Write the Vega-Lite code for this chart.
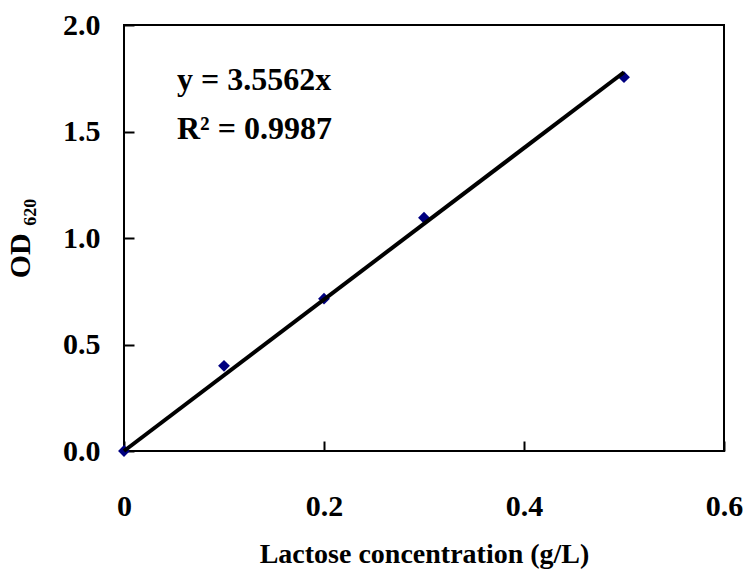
{
  "$schema": "https://vega.github.io/schema/vega-lite/v6.json",
  "width": 600,
  "height": 426,
  "autosize": {"type": "none"},
  "padding": {"left": 124, "top": 25, "right": 23, "bottom": 130},
  "background": "white",
  "config": {
    "view": {"stroke": "black", "strokeWidth": 2},
    "font": "Liberation Serif",
    "axis": {
      "labelFont": "Liberation Serif",
      "labelFontSize": 30,
      "labelFontWeight": "bold",
      "labelColor": "black",
      "titleFont": "Liberation Serif",
      "titleFontSize": 28,
      "titleFontWeight": "bold",
      "titleColor": "black",
      "grid": false,
      "domain": false,
      "tickColor": "black",
      "tickWidth": 2,
      "tickSize": -10,
      "labelFlush": false,
      "labelOverlap": false
    }
  },
  "datasets": {
    "points": [
      {"conc": 0.0, "od": 0.0},
      {"conc": 0.1, "od": 0.40},
      {"conc": 0.2, "od": 0.715},
      {"conc": 0.3, "od": 1.095},
      {"conc": 0.5, "od": 1.755}
    ],
    "fit": [
      {"conc": 0.0, "od": 0.0},
      {"conc": 0.5, "od": 1.7781}
    ],
    "notes": [
      {"conc": 0.053, "od": 1.693, "label": "y = 3.5562x"},
      {"conc": 0.053, "od": 1.467, "label": "R² = 0.9987"}
    ]
  },
  "layer": [
    {
      "data": {"name": "points"},
      "mark": {"type": "point", "shape": "diamond", "filled": true, "color": "#000080", "size": 140, "opacity": 1},
      "encoding": {
        "x": {
          "field": "conc", "type": "quantitative",
          "scale": {"domain": [0, 0.6], "nice": false},
          "axis": {
            "values": [0, 0.2, 0.4, 0.6],
            "labelExpr": "datum.value == 0 ? '0' : format(datum.value, '.1f')",
            "labelPadding": 50,
            "title": "Lactose concentration (g/L)",
            "titleX": 300,
            "titleY": 111,
            "titleBaseline": "alphabetic",
            "titleAlign": "center"
          }
        },
        "y": {
          "field": "od", "type": "quantitative",
          "scale": {"domain": [0, 2], "nice": false},
          "axis": {
            "values": [0, 0.5, 1, 1.5, 2],
            "format": ".1f",
            "labelPadding": 34,
            "title": "OD ₆₂₀",
            "titleFontSize": 30,
            "titleX": -104,
            "titleY": 213,
            "titleAngle": -90,
            "titleBaseline": "middle",
            "titleAlign": "center"
          }
        }
      }
    },
    {
      "data": {"name": "fit"},
      "mark": {"type": "line", "color": "black", "strokeWidth": 4},
      "encoding": {
        "x": {"field": "conc", "type": "quantitative"},
        "y": {"field": "od", "type": "quantitative"}
      }
    },
    {
      "data": {"name": "notes"},
      "mark": {"type": "text", "align": "left", "baseline": "alphabetic", "font": "Liberation Serif", "fontSize": 32, "fontWeight": "bold", "color": "black"},
      "encoding": {
        "x": {"field": "conc", "type": "quantitative"},
        "y": {"field": "od", "type": "quantitative"},
        "text": {"field": "label"}
      }
    }
  ]
}
